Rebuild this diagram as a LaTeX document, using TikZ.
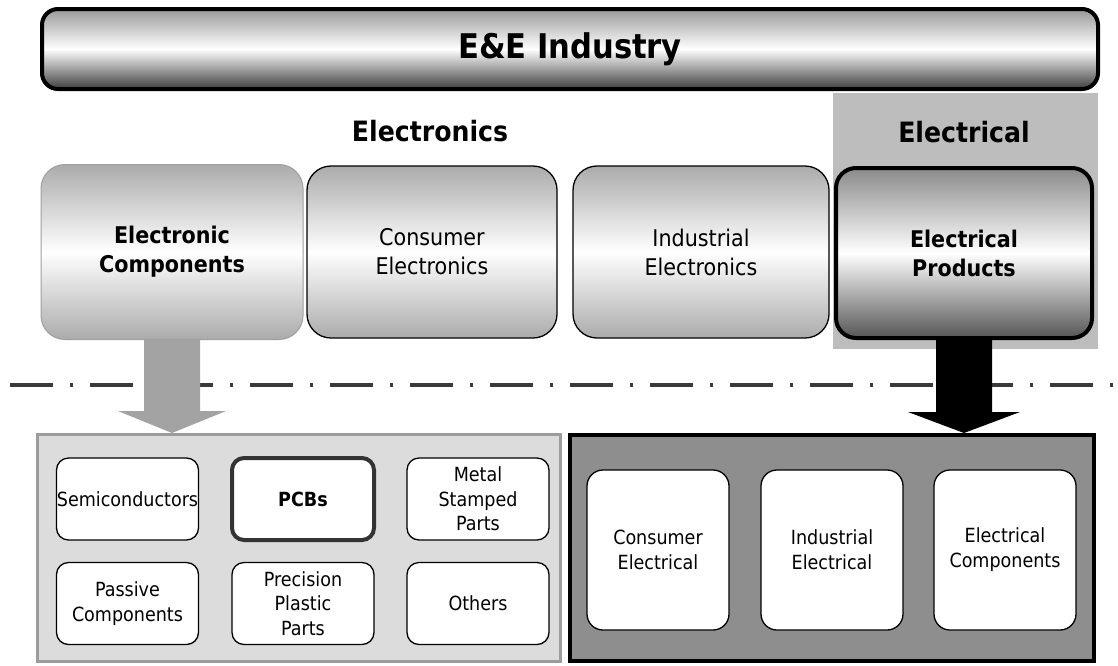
\documentclass[tikz,border=0pt]{standalone}
\usepackage{fontspec}
\setmainfont{DejaVu Sans Condensed}
\usetikzlibrary{calc}

\definecolor{boxgray}{HTML}{ABABAB}
\definecolor{prodtop}{HTML}{8A8A8A}
\definecolor{prodbot}{HTML}{555555}
\definecolor{bantop}{HTML}{999999}
\definecolor{banbot}{HTML}{3E3E3E}
\definecolor{elpanel}{HTML}{BDBDBD}
\definecolor{leftpanel}{HTML}{DCDCDC}
\definecolor{leftframe}{HTML}{9C9C9C}
\definecolor{rightpanel}{HTML}{8E8E8E}
\definecolor{arrowgray}{HTML}{A3A3A3}
\definecolor{sepline}{HTML}{3A3A3A}

\newcommand{\fsz}[2]{\fontsize{#1}{#2}\selectfont}

\tikzset{
  banner/.style={rounded corners=16pt, draw=black, line width=4pt,
    top color=bantop, bottom color=banbot, middle color=white,
    minimum width=1056pt, minimum height=80pt, inner sep=0pt,
    font=\fsz{34}{40}\bfseries},
  sector/.style={rounded corners=24pt, draw=black, line width=1.3pt,
    top color=boxgray, bottom color=boxgray, middle color=white,
    minimum width=254pt, minimum height=172pt, inner sep=0pt,
    align=center, font=\fsz{23}{29}},
  heading/.style={font=\fsz{28}{32}\bfseries, inner sep=0pt},
  part/.style={rounded corners=12pt, draw=black, line width=1.3pt, fill=white,
    minimum width=142pt, minimum height=82pt, inner sep=0pt,
    align=center, font=\fsz{19.5}{24.5}},
  eprod/.style={rounded corners=16pt, draw=black, line width=1.3pt, fill=white,
    minimum width=142pt, minimum height=160pt, inner sep=0pt,
    align=center, font=\fsz{19.5}{25}},
}

\begin{document}
\begin{tikzpicture}[x=1pt, y=-1pt]
\useasboundingbox[fill=white] (0,0) rectangle (1118,665);

% shaded backdrop of the electrical sector
\fill[elpanel] (833,93) rectangle (1098,349);

% title bar
\node[banner] (ind) at (570,49) {E\&E Industry};

% sector headings
\node[heading] (hele) at (430,131) {Electronics};
\node[heading] (helc) at (964,132) {Electrical};

% sector boxes
\node[sector, draw=gray!75, line width=1pt, minimum width=262pt, minimum height=175pt,
      font=\fsz{23}{29}\bfseries] (ec) at (172,252) {Electronic\\Components};
\node[sector, minimum width=250pt] (ce) at (432,252) {Consumer\\Electronics};
\node[sector, minimum width=256pt] (ie) at (701,252) {Industrial\\Electronics};
\node[sector, line width=4pt, rounded corners=20pt, minimum width=256pt, minimum height=170pt,
      top color=prodtop, bottom color=prodbot, middle color=white,
      font=\fsz{23}{29}\bfseries] (ep) at (964,253) {Electrical\\Products};

% dash-dot separator
\coordinate (sepL) at (0,385);
\coordinate (sepR) at (1118,385);
\draw[sepline, line width=4pt, dash pattern=on 43pt off 17pt on 3pt off 17pt,
      dash phase=70pt] (sepL) -- (sepR);

% lower panels
\node[draw=leftframe, line width=3pt, fill=leftpanel, minimum width=523pt,
      minimum height=227pt, inner sep=0pt] (lp) at (299,548) {};
\node[draw=black, line width=4pt, fill=rightpanel, minimum width=524pt,
      minimum height=226pt, inner sep=0pt] (rp) at (832,548) {};

% electronic component groups
\node[part] (semi) at (127.5,499) {Semiconductors};
\node[part, draw=black!80, line width=4pt, font=\fsz{19.5}{24.5}\bfseries] (pcb) at (303,499) {PCBs};
\node[part] (metal) at (478,499) {Metal\\Stamped\\Parts};
\node[part] (pass) at (127.5,603.5) {Passive\\Components};
\node[part] (prec) at (303,603.5) {Precision\\Plastic\\Parts};
\node[part] (oth) at (478,603.5) {Others};

% electrical product groups
\node[eprod] (cel) at (658,550) {Consumer\\Electrical};
\node[eprod] (iel) at (832,550) {Industrial\\Electrical};
\node[eprod] (ecp) at (1005,550) {Electrical\\Components};

% block arrows into the lower panels
\coordinate (gtip) at (ec.south |- lp.north);
\fill[arrowgray] ($(ec.south)+(-28,0)$) -- ($(ec.south)+(28,0)$)
  -- ($(gtip)+(28,-22)$) -- ($(gtip)+(54,-22)$) -- (gtip)
  -- ($(gtip)+(-54,-22)$) -- ($(gtip)+(-28,-22)$) -- cycle;

\coordinate (btip) at (ep.south |- rp.north);
\fill[black] ($(ep.south)+(-28,0)$) -- ($(ep.south)+(28,0)$)
  -- ($(btip)+(28,-21)$) -- ($(btip)+(56,-21)$) -- (btip)
  -- ($(btip)+(-56,-21)$) -- ($(btip)+(-28,-21)$) -- cycle;
\end{tikzpicture}
\end{document}
